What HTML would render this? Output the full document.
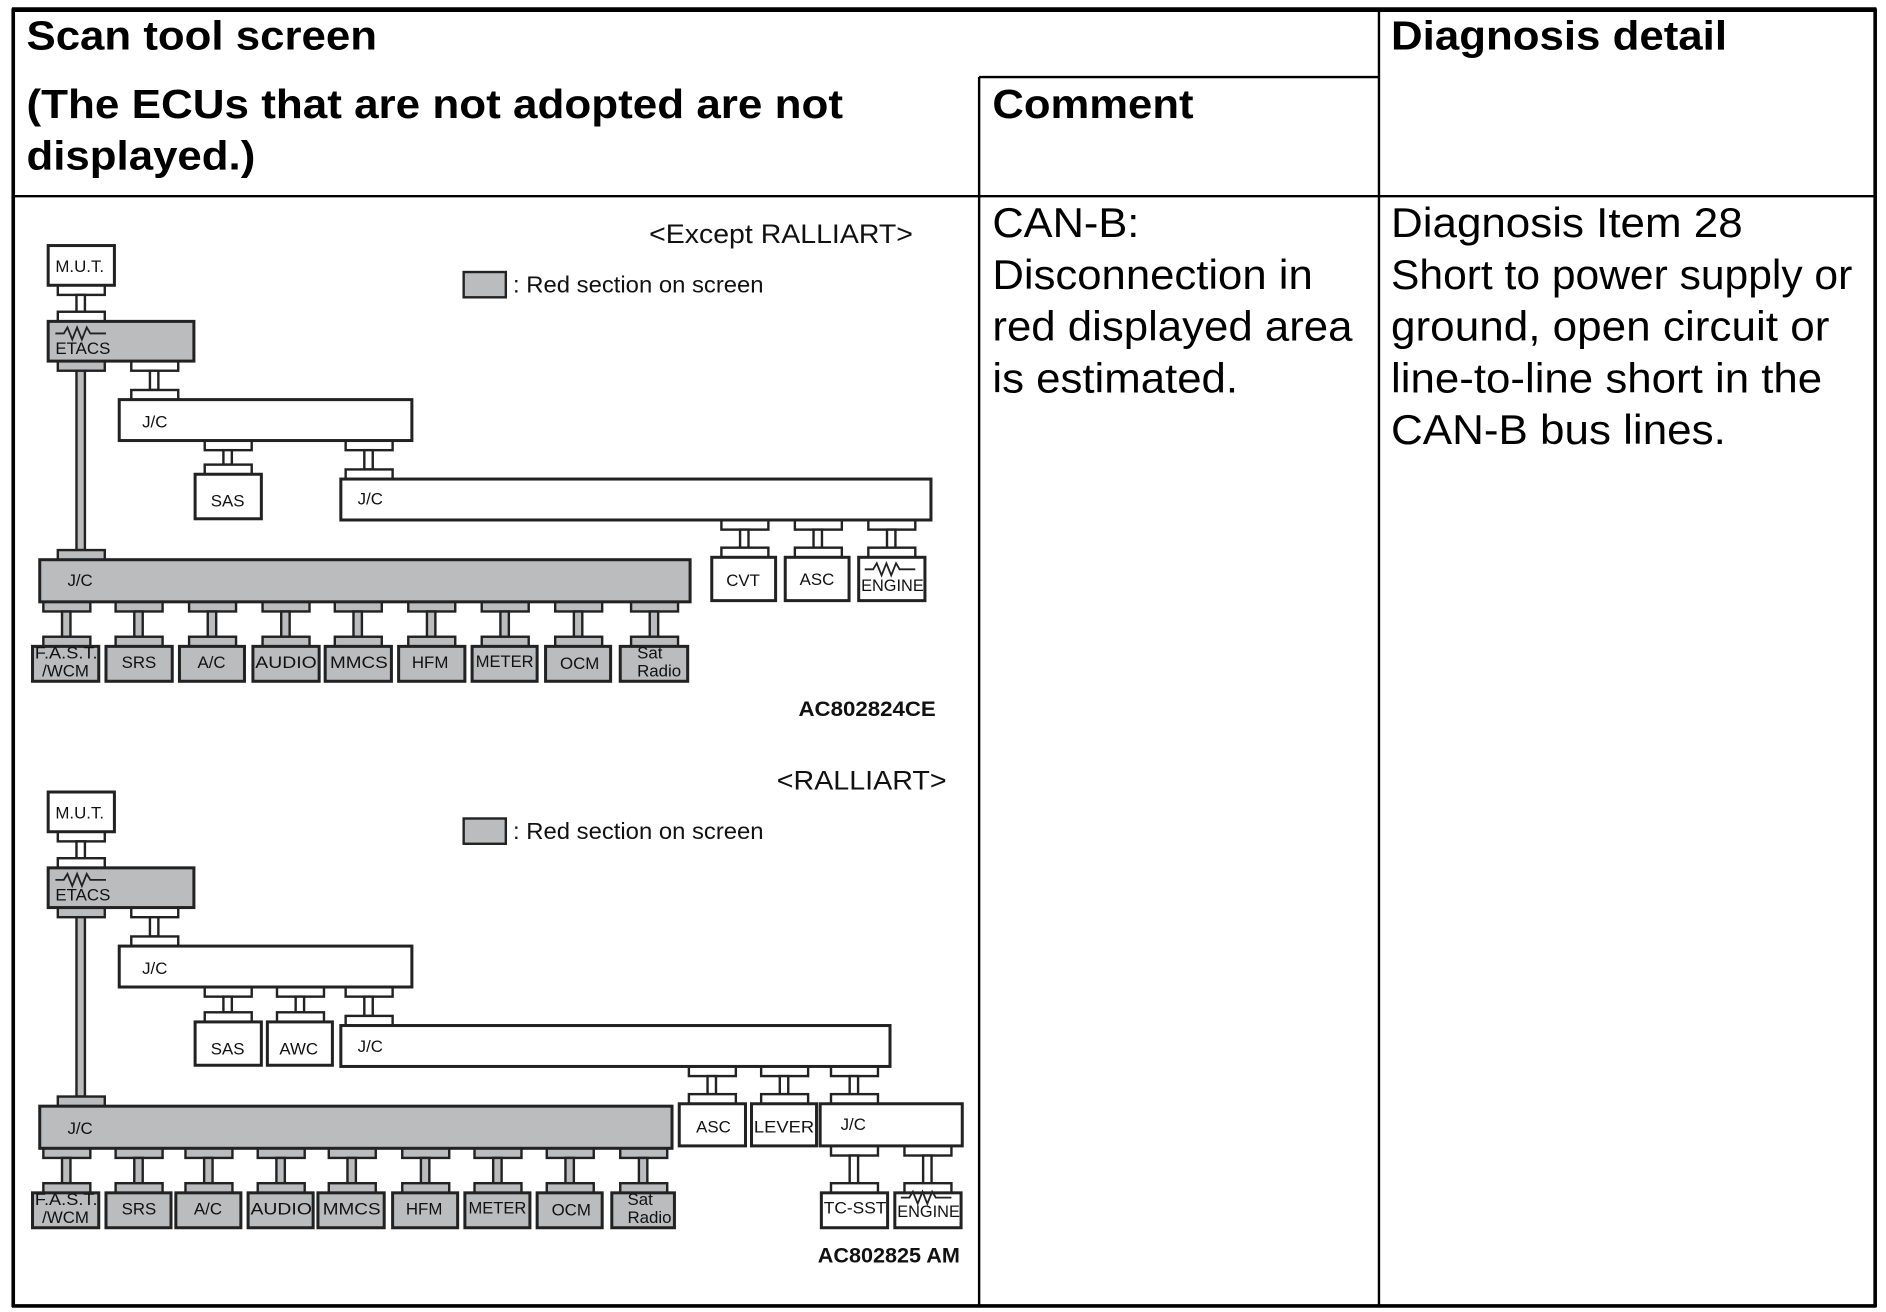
<!DOCTYPE html>
<html><head><meta charset="utf-8"><style>html,body{margin:0;padding:0;background:#fff}svg{display:block}</style></head>
<body>
<svg width="1886" height="1312" viewBox="0 0 1566 1090" preserveAspectRatio="none" xmlns="http://www.w3.org/2000/svg" font-family="'Liberation Sans Narrow','Liberation Sans',sans-serif">
<rect width="1566" height="1090" fill="#fff"/>
<!-- table -->
<g stroke="#000" fill="none">
<line x1="10" y1="8" x2="1558" y2="8" stroke-width="4"/>
<line x1="10" y1="1085" x2="1558" y2="1085" stroke-width="3"/>
<line x1="11" y1="7" x2="11" y2="1086" stroke-width="3"/>
<line x1="1557" y1="7" x2="1557" y2="1086" stroke-width="3"/>
<line x1="813" y1="64" x2="1145" y2="64" stroke-width="2"/>
<line x1="11" y1="163" x2="1557" y2="163" stroke-width="2"/>
<line x1="813" y1="64" x2="813" y2="1086" stroke-width="2"/>
<line x1="1145" y1="8" x2="1145" y2="1086" stroke-width="2"/>
</g>
<g font-size="34" font-weight="bold" fill="#000">
<text x="22" y="41" textLength="291" lengthAdjust="spacingAndGlyphs">Scan tool screen</text>
<text x="22" y="98" textLength="678" lengthAdjust="spacingAndGlyphs">(The ECUs that are not adopted are not</text>
<text x="22" y="141" textLength="190" lengthAdjust="spacingAndGlyphs">displayed.)</text>
<text x="824" y="98" textLength="167" lengthAdjust="spacingAndGlyphs">Comment</text>
<text x="1155" y="41" textLength="279" lengthAdjust="spacingAndGlyphs">Diagnosis detail</text>
</g>
<g font-size="35" fill="#000">
<text x="824" y="197" textLength="122" lengthAdjust="spacingAndGlyphs">CAN-B:</text>
<text x="824" y="240" textLength="266" lengthAdjust="spacingAndGlyphs">Disconnection in</text>
<text x="824" y="283" textLength="299" lengthAdjust="spacingAndGlyphs">red displayed area</text>
<text x="824" y="326" textLength="204" lengthAdjust="spacingAndGlyphs">is estimated.</text>
<text x="1155" y="197" textLength="292" lengthAdjust="spacingAndGlyphs">Diagnosis Item 28</text>
<text x="1155" y="240" textLength="383" lengthAdjust="spacingAndGlyphs">Short to power supply or</text>
<text x="1155" y="283" textLength="364" lengthAdjust="spacingAndGlyphs">ground, open circuit or</text>
<text x="1155" y="326" textLength="358" lengthAdjust="spacingAndGlyphs">line-to-line short in the</text>
<text x="1155" y="369" textLength="278" lengthAdjust="spacingAndGlyphs">CAN-B bus lines.</text>
</g>

<!-- DIAGRAM 1 -->
<g stroke="#222" stroke-width="2">
<text x="539" y="202" font-size="22" stroke="none" fill="#111" textLength="219" lengthAdjust="spacingAndGlyphs">&lt;Except RALLIART&gt;</text>
<rect x="385" y="226" width="35" height="21" fill="#bbbcbe"/>
<text x="426" y="243" font-size="19" stroke="none" fill="#111" textLength="208" lengthAdjust="spacingAndGlyphs">: Red section on screen</text>
<!-- connectors -->
<g fill="#fff">
<rect x="48" y="237" width="39" height="8"/><rect x="63.5" y="245" width="7" height="14"/><rect x="48" y="259" width="39" height="8"/>
<rect x="109" y="300" width="39" height="8"/><rect x="124.5" y="308" width="7" height="16"/><rect x="109" y="324" width="39" height="8"/>
<rect x="170" y="366" width="39" height="8"/><rect x="185.5" y="374" width="7" height="12"/><rect x="170" y="386" width="39" height="8"/>
<rect x="287" y="366" width="39" height="8"/><rect x="302.5" y="374" width="7" height="16"/><rect x="287" y="390" width="39" height="8"/>
<rect x="599" y="432" width="39" height="8"/><rect x="614.5" y="440" width="7" height="15"/><rect x="599" y="455" width="39" height="8"/>
<rect x="660" y="432" width="39" height="8"/><rect x="675.5" y="440" width="7" height="15"/><rect x="660" y="455" width="39" height="8"/>
<rect x="721" y="432" width="39" height="8"/><rect x="736.5" y="440" width="7" height="15"/><rect x="721" y="455" width="39" height="8"/>
</g>
<g fill="#bbbcbe">
<rect x="48" y="300" width="39" height="8"/><rect x="63.5" y="308" width="7" height="149"/><rect x="48" y="457" width="39" height="8"/>
<rect x="36" y="500" width="39" height="8"/><rect x="51.5" y="508" width="7" height="21"/><rect x="36" y="529" width="39" height="8"/>
<rect x="96" y="500" width="39" height="8"/><rect x="111.5" y="508" width="7" height="21"/><rect x="96" y="529" width="39" height="8"/>
<rect x="157" y="500" width="39" height="8"/><rect x="172.5" y="508" width="7" height="21"/><rect x="157" y="529" width="39" height="8"/>
<rect x="218" y="500" width="39" height="8"/><rect x="233.5" y="508" width="7" height="21"/><rect x="218" y="529" width="39" height="8"/>
<rect x="278" y="500" width="39" height="8"/><rect x="293.5" y="508" width="7" height="21"/><rect x="278" y="529" width="39" height="8"/>
<rect x="339" y="500" width="39" height="8"/><rect x="354.5" y="508" width="7" height="21"/><rect x="339" y="529" width="39" height="8"/>
<rect x="400" y="500" width="39" height="8"/><rect x="415.5" y="508" width="7" height="21"/><rect x="400" y="529" width="39" height="8"/>
<rect x="461" y="500" width="39" height="8"/><rect x="476.5" y="508" width="7" height="21"/><rect x="461" y="529" width="39" height="8"/>
<rect x="524" y="500" width="39" height="8"/><rect x="539.5" y="508" width="7" height="21"/><rect x="524" y="529" width="39" height="8"/>
</g>
<!-- boxes -->
<rect x="40" y="204" width="55" height="33" fill="#fff" stroke-width="2.5"/>
<rect x="40" y="267" width="121" height="33" fill="#bbbcbe" stroke-width="2.5"/>
<rect x="99" y="332" width="243" height="34" fill="#fff" stroke-width="2.5"/>
<rect x="162" y="394" width="55" height="37" fill="#fff" stroke-width="2.5"/>
<rect x="283" y="398" width="490" height="34" fill="#fff" stroke-width="2.5"/>
<rect x="33" y="465" width="540" height="35" fill="#bbbcbe" stroke-width="2.5"/>
<rect x="591" y="463" width="53" height="36" fill="#fff" stroke-width="2.5"/>
<rect x="652" y="463" width="53" height="36" fill="#fff" stroke-width="2.5"/>
<rect x="713" y="463" width="55" height="36" fill="#fff" stroke-width="2.5"/>
<g fill="#bbbcbe" stroke-width="2.5">
<rect x="27" y="537" width="55" height="29"/><rect x="88" y="537" width="55" height="29"/><rect x="149" y="537" width="54" height="29"/>
<rect x="210" y="537" width="55" height="29"/><rect x="270" y="537" width="55" height="29"/><rect x="331" y="537" width="55" height="29"/>
<rect x="392" y="537" width="54" height="29"/><rect x="453" y="537" width="54" height="29"/><rect x="515" y="537" width="56" height="29"/>
</g>
<polyline points="46,277 53,277 56,272 60,282 64,272 68,282 72,272 75,277 88,277" fill="none" stroke-width="1.5"/>
<polyline points="718,473 725,473 728,468 732,478 736,468 740,478 744,468 747,473 760,473" fill="none" stroke-width="1.5"/>
<g stroke="none" fill="#111" font-size="14">
<text x="46" y="226">M.U.T.</text>
<text x="46" y="294">ETACS</text>
<text x="118" y="355">J/C</text>
<text x="175" y="421">SAS</text>
<text x="297" y="419">J/C</text>
<text x="56" y="487">J/C</text>
<text x="603" y="487">CVT</text>
<text x="664" y="486">ASC</text>
<text x="715" y="491" textLength="52" lengthAdjust="spacingAndGlyphs">ENGINE</text>
<text x="29" y="547" textLength="52" lengthAdjust="spacingAndGlyphs">F.A.S.T.</text>
<text x="35" y="562">/WCM</text>
<text x="101" y="555">SRS</text>
<text x="164" y="555">A/C</text>
<text x="212" y="555" textLength="51" lengthAdjust="spacingAndGlyphs">AUDIO</text>
<text x="274" y="555" textLength="48" lengthAdjust="spacingAndGlyphs">MMCS</text>
<text x="342" y="555">HFM</text>
<text x="395" y="554" textLength="48" lengthAdjust="spacingAndGlyphs">METER</text>
<text x="465" y="556">OCM</text>
<text x="529" y="547">Sat</text>
<text x="529" y="562">Radio</text>
<text x="663" y="595" font-size="18" font-weight="bold" textLength="114" lengthAdjust="spacingAndGlyphs">AC802824CE</text>
</g>
</g>

<!-- DIAGRAM 2 -->
<g stroke="#222" stroke-width="2">
<text x="645" y="656" font-size="22" stroke="none" fill="#111" textLength="141" lengthAdjust="spacingAndGlyphs">&lt;RALLIART&gt;</text>
<rect x="385" y="680" width="35" height="21" fill="#bbbcbe"/>
<text x="426" y="697" font-size="19" stroke="none" fill="#111" textLength="208" lengthAdjust="spacingAndGlyphs">: Red section on screen</text>
<g fill="#fff">
<rect x="48" y="691" width="39" height="8"/><rect x="63.5" y="699" width="7" height="14"/><rect x="48" y="713" width="39" height="8"/>
<rect x="109" y="754" width="39" height="8"/><rect x="124.5" y="762" width="7" height="16"/><rect x="109" y="778" width="39" height="8"/>
<rect x="170" y="820" width="39" height="8"/><rect x="185.5" y="828" width="7" height="13"/><rect x="170" y="841" width="39" height="8"/>
<rect x="230" y="820" width="39" height="8"/><rect x="245.5" y="828" width="7" height="13"/><rect x="230" y="841" width="39" height="8"/>
<rect x="287" y="820" width="39" height="8"/><rect x="302.5" y="828" width="7" height="16"/><rect x="287" y="844" width="39" height="8"/>
<rect x="572" y="886" width="39" height="8"/><rect x="587.5" y="894" width="7" height="15"/><rect x="572" y="909" width="39" height="8"/>
<rect x="632" y="886" width="39" height="8"/><rect x="647.5" y="894" width="7" height="15"/><rect x="632" y="909" width="39" height="8"/>
<rect x="690" y="886" width="39" height="8"/><rect x="705.5" y="894" width="7" height="15"/><rect x="690" y="909" width="39" height="8"/>
<rect x="690" y="952" width="39" height="8"/><rect x="705.5" y="960" width="7" height="23"/><rect x="690" y="983" width="39" height="8"/>
<rect x="751" y="952" width="39" height="8"/><rect x="766.5" y="960" width="7" height="23"/><rect x="751" y="983" width="39" height="8"/>
</g>
<g fill="#bbbcbe">
<rect x="48" y="754" width="39" height="8"/><rect x="63.5" y="762" width="7" height="149"/><rect x="48" y="911" width="39" height="8"/>
<rect x="36" y="954" width="39" height="8"/><rect x="51.5" y="962" width="7" height="21"/><rect x="36" y="983" width="39" height="8"/>
<rect x="96" y="954" width="39" height="8"/><rect x="111.5" y="962" width="7" height="21"/><rect x="96" y="983" width="39" height="8"/>
<rect x="154" y="954" width="39" height="8"/><rect x="169.5" y="962" width="7" height="21"/><rect x="154" y="983" width="39" height="8"/>
<rect x="214" y="954" width="39" height="8"/><rect x="229.5" y="962" width="7" height="21"/><rect x="214" y="983" width="39" height="8"/>
<rect x="273" y="954" width="39" height="8"/><rect x="288.5" y="962" width="7" height="21"/><rect x="273" y="983" width="39" height="8"/>
<rect x="334" y="954" width="39" height="8"/><rect x="349.5" y="962" width="7" height="21"/><rect x="334" y="983" width="39" height="8"/>
<rect x="394" y="954" width="39" height="8"/><rect x="409.5" y="962" width="7" height="21"/><rect x="394" y="983" width="39" height="8"/>
<rect x="454" y="954" width="39" height="8"/><rect x="469.5" y="962" width="7" height="21"/><rect x="454" y="983" width="39" height="8"/>
<rect x="515" y="954" width="39" height="8"/><rect x="530.5" y="962" width="7" height="21"/><rect x="515" y="983" width="39" height="8"/>
</g>
<rect x="40" y="658" width="55" height="33" fill="#fff" stroke-width="2.5"/>
<rect x="40" y="721" width="121" height="33" fill="#bbbcbe" stroke-width="2.5"/>
<rect x="99" y="786" width="243" height="34" fill="#fff" stroke-width="2.5"/>
<rect x="162" y="849" width="55" height="36" fill="#fff" stroke-width="2.5"/>
<rect x="222" y="849" width="54" height="36" fill="#fff" stroke-width="2.5"/>
<rect x="283" y="852" width="456" height="34" fill="#fff" stroke-width="2.5"/>
<rect x="33" y="919" width="525" height="35" fill="#bbbcbe" stroke-width="2.5"/>
<rect x="564" y="917" width="55" height="35" fill="#fff" stroke-width="2.5"/>
<rect x="624" y="917" width="54" height="35" fill="#fff" stroke-width="2.5"/>
<rect x="681" y="917" width="118" height="35" fill="#fff" stroke-width="2.5"/>
<rect x="682" y="991" width="55" height="29" fill="#fff" stroke-width="2.5"/>
<rect x="743" y="991" width="55" height="29" fill="#fff" stroke-width="2.5"/>
<g fill="#bbbcbe" stroke-width="2.5">
<rect x="27" y="991" width="55" height="29"/><rect x="88" y="991" width="54" height="29"/><rect x="146" y="991" width="54" height="29"/>
<rect x="206" y="991" width="54" height="29"/><rect x="264" y="991" width="55" height="29"/><rect x="326" y="991" width="54" height="29"/>
<rect x="386" y="991" width="54" height="29"/><rect x="446" y="991" width="54" height="29"/><rect x="508" y="991" width="52" height="29"/>
</g>
<polyline points="46,731 53,731 56,726 60,736 64,726 68,736 72,726 75,731 88,731" fill="none" stroke-width="1.5"/>
<polyline points="748,995 755,995 758,990 762,1000 766,990 770,1000 774,990 777,995 790,995" fill="none" stroke-width="1.5"/>
<g stroke="none" fill="#111" font-size="14">
<text x="46" y="680">M.U.T.</text>
<text x="46" y="748">ETACS</text>
<text x="118" y="809">J/C</text>
<text x="175" y="876">SAS</text>
<text x="232" y="876">AWC</text>
<text x="297" y="874">J/C</text>
<text x="56" y="942">J/C</text>
<text x="578" y="941">ASC</text>
<text x="626" y="941" textLength="50" lengthAdjust="spacingAndGlyphs">LEVER</text>
<text x="698" y="939">J/C</text>
<text x="684" y="1008" textLength="52" lengthAdjust="spacingAndGlyphs">TC-SST</text>
<text x="745" y="1011" textLength="52" lengthAdjust="spacingAndGlyphs">ENGINE</text>
<text x="29" y="1001" textLength="52" lengthAdjust="spacingAndGlyphs">F.A.S.T.</text>
<text x="35" y="1016">/WCM</text>
<text x="101" y="1009">SRS</text>
<text x="161" y="1009">A/C</text>
<text x="208" y="1009" textLength="51" lengthAdjust="spacingAndGlyphs">AUDIO</text>
<text x="268" y="1009" textLength="48" lengthAdjust="spacingAndGlyphs">MMCS</text>
<text x="337" y="1009">HFM</text>
<text x="389" y="1008" textLength="48" lengthAdjust="spacingAndGlyphs">METER</text>
<text x="458" y="1010">OCM</text>
<text x="521" y="1001">Sat</text>
<text x="521" y="1016">Radio</text>
<text x="679" y="1049" font-size="18" font-weight="bold" textLength="118" lengthAdjust="spacingAndGlyphs">AC802825 AM</text>
</g>
</g>
</svg>
</body></html>
